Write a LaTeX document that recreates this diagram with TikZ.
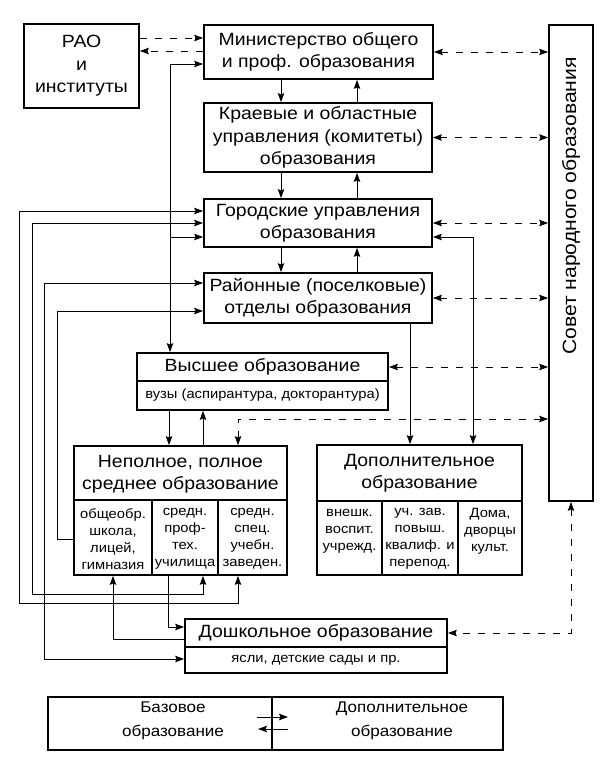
\documentclass[tikz,border=0pt]{standalone}
\usepackage{fontspec}
\setmainfont{Liberation Sans}[FakeStretch=1.1]
\usetikzlibrary{arrows.meta}
\newcommand\fmain{\fontsize{17.7}{22.5}\selectfont}
\newcommand\fsov{\fontsize{19.2}{22.5}\selectfont}
\newcommand\fsml{\fontsize{13.4}{17}\selectfont}
\newcommand\fleg{\fontsize{15.5}{24}\selectfont}
\begin{document}
\begin{tikzpicture}[x=1pt,y=-1pt,
  >={Stealth[length=9pt,width=6.5pt,inset=1.5pt]},
  bx/.style={draw,line width=1.8pt,inner sep=0pt,align=center,font=\fmain},
  ln/.style={line width=0.9pt},
  dsh/.style={line width=0.9pt,dash pattern=on 7pt off 8pt},
  txt/.style={inner sep=0pt,align=center,font=\fmain},
  sml/.style={inner sep=0pt,align=center,font=\fsml},
  dv/.style={line width=1.2pt}]
\useasboundingbox (0,0) rectangle (612,770);
% boxes
\node[bx,minimum width=115pt,minimum height=84pt] (rao) at (81.5,66) {РАО\\и\\институты};
\node[bx,minimum width=229pt,minimum height=54pt] (min) at (318.5,52) {Министерство общего\\и проф. образования};
\node[bx,minimum width=228pt,minimum height=69pt] (kra) at (318,137.5) {Краевые и областные\\управления (комитеты)\\образования};
\node[bx,minimum width=228pt,minimum height=48pt] (gor) at (318,223) {Городские управления\\образования};
\node[bx,minimum width=228pt,minimum height=50pt] (ray) at (318,298) {Районные (поселковые)\\отделы образования};
\node[bx,minimum width=44pt,minimum height=476pt] (sov) at (571,263) {};
\node[txt,font=\fsov,rotate=90] (sovt) at (571,206) {Совет народного образования};
% higher
\node[bx,minimum width=251pt,minimum height=57pt] (vys) at (262.5,381.5) {};
\draw[dv] (vys.west|-0,381) -- (vys.east|-0,381);
\node[txt] (vyst) at (262.5,367) {Высшее образование};
\node[sml] (vyss) at (262.5,395.5) {вузы (аспирантура, докторантура)};
% secondary
\node[bx,minimum width=213pt,minimum height=129pt] (nep) at (180.5,510.5) {};
\draw[dv] (nep.west|-0,500) -- (nep.east|-0,500);
\draw[dv] (152,500) -- (152,0|-nep.south);
\draw[dv] (218,500) -- (218,0|-nep.south);
\node[txt] (nept) at (180.5,474) {Неполное, полное\\среднее образование};
\node[sml] (nep1) at (113,539) {общеобр.\\школа,\\лицей,\\гимназия};
\node[sml] (nep2) at (185,539) {средн.\\проф-\\тех.\\училища};
\node[sml] (nep3) at (252.5,539) {средн.\\спец.\\учебн.\\заведен.};
% additional
\node[bx,minimum width=205pt,minimum height=130pt] (dop) at (419.5,510) {};
\draw[dv] (dop.west|-0,501) -- (dop.east|-0,501);
\draw[dv] (382,501) -- (382,0|-dop.south);
\draw[dv] (458,501) -- (458,0|-dop.south);
\node[txt] (dopt) at (419.5,473) {Дополнительное\\образование};
\node[sml] (dop1) at (349.5,531) {внешк.\\воспит.\\учрежд.};
\node[sml] (dop2) at (420,539) {уч. зав.\\повыш.\\квалиф. и\\перепод.};
\node[sml] (dop3) at (490,531) {Дома,\\дворцы\\культ.};
% preschool
\node[bx,minimum width=262pt,minimum height=54pt] (dos) at (316,646) {};
\draw[dv] (dos.west|-0,647) -- (dos.east|-0,647);
\node[txt] (dost) at (316,633) {Дошкольное образование};
\node[sml] (doss) at (316,660) {ясли, детские сады и пр.};
% legend
\node[bx,minimum width=455pt,minimum height=53pt] (leg) at (275.5,723.5) {};
\draw[dv] (272,0|-leg.north) -- (272,0|-leg.south);
\node[txt,font=\fleg] (legl) at (173,721) {Базовое\\образование};
\node[txt,font=\fleg] (legr) at (402,721) {Дополнительное\\образование};
\coordinate (la) at (257,717); \coordinate (lb) at (288,717);
\coordinate (lc) at (288,729); \coordinate (ld) at (258,729);
\draw[ln,->] (la) -- (lb);
\draw[ln,->] (lc) -- (ld);
% connectors
\draw[dsh,->] (rao.east|-0,38) -- (min.west|-0,38);
\draw[dsh,->] (min.west|-0,51) -- (rao.east|-0,51);
\draw[ln,<->] (170,0|-vys.north) |- (min.west|-0,64);
\coordinate (j1) at (170,237);
\draw[ln,->] (j1) -- (gor.west|-j1);
\draw[ln,->] (281,0|-min.south) -- (281,0|-kra.north);
\draw[ln,->] (357,0|-kra.north) -- (357,0|-min.south);
\draw[ln,->] (281,0|-kra.south) -- (281,0|-gor.north);
\draw[ln,->] (357,0|-gor.north) -- (357,0|-kra.south);
\draw[ln,->] (281,0|-gor.south) -- (281,0|-ray.north);
\draw[ln,->] (357,0|-ray.north) -- (357,0|-gor.south);
\draw[dsh,<->] (min.east) -- (sov.west|-min.east);
\draw[dsh,<->] (kra.east) -- (sov.west|-kra.east);
\draw[dsh,<->] (gor.east) -- (sov.west|-gor.east);
\draw[dsh,<->] (ray.east) -- (sov.west|-ray.east);
\draw[dsh,<->] (vys.east|-0,367) -- (sov.west|-0,367);
\draw[dsh,<->] (sov.west|-0,419) -| (238,0|-nep.north);
\draw[ln,->] (169,0|-vys.south) -- (169,0|-nep.north);
\draw[ln,->] (203,0|-nep.north) -- (203,0|-vys.south);
\draw[ln,<->] (gor.east|-0,237) -| (473,0|-dop.north);
\draw[ln,->] (410,0|-ray.south) -- (410,0|-dop.north);
\draw[ln,<->] (gor.west|-0,211) -| (19,603) -| (238,0|-nep.south);
\draw[ln,<->] (gor.west|-0,223) -| (32,594) -| (203,0|-nep.south);
\draw[ln,<->] (ray.west|-0,283) -| (44,659) -- (dos.west|-0,659);
\draw[ln,<-] (ray.west|-0,311) -| (57,539) -- (nep.west|-0,539);
\draw[ln,->] (168,0|-nep.south) |- (dos.west|-0,627);
\draw[ln,->] (dos.west|-0,639) -| (113,0|-nep.south);
\draw[dsh,<->] (sov.south) |- (dos.east|-0,633);
\end{tikzpicture}
\end{document}
